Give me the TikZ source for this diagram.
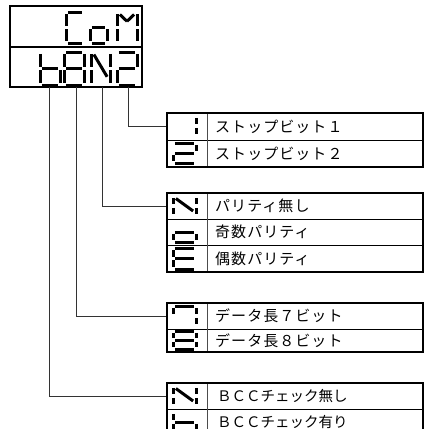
\documentclass[tikz,border=0pt]{standalone}
\usepackage{fontspec}
\newfontfamily\jp{Noto Sans CJK JP}

% seven-segment digit: x, y (top left), width, height, segments
\newcommand{\segdigit}[5]{%
  \begin{scope}[shift={(#1,#2)}]
    \def\sw{#3}\def\sh{#4}
    \foreach \s in {#5} {\draw[segline, seg/.expanded=\s];}
  \end{scope}}

\tikzset{
  segline/.style={line width=3pt, line cap=butt},
  seg/.style={seg #1},
  seg a/.style={insert path={(\sgap,0) -- (\sw-\sgap,0)}},
  seg b/.style={insert path={(\sw,\sgap) -- (\sw,\sh/2-\sgap)}},
  seg c/.style={insert path={(\sw,\sh/2+\sgap) -- (\sw,\sh-\sgap)}},
  seg d/.style={insert path={(\sgap,\sh) -- (\sw-\sgap,\sh)}},
  seg e/.style={insert path={(0,\sh/2+\sgap) -- (0,\sh-\sgap)}},
  seg f/.style={insert path={(0,\sgap) -- (0,\sh/2-\sgap)}},
  seg g/.style={insert path={(\sgap,\sh/2) -- (\sw-\sgap,\sh/2)}},
  seg n/.style={insert path={(1.6*\sgap,1.4*\sgap) -- (\sw-1.6*\sgap,0.75*\sh)}},
  seg ml/.style={insert path={(1.6*\sgap,1.4*\sgap) -- (\sw/2,0.3*\sh)}},
  seg mr/.style={insert path={(\sw-1.6*\sgap,1.4*\sgap) -- (\sw/2,0.3*\sh)}},
  disp/.style={line width=1.6pt},
  tab/.style={line width=1.4pt},
  rowline/.style={line width=0.8pt},
  colline/.style={line width=0.6pt, black!70},
  wire/.style={line width=0.8pt, black!80},
  txt/.style={anchor=west, inner sep=0pt,
    font=\jp\fontsize{15}{15}\selectfont\addfontfeature{LetterSpace=7}},
  bcctxt/.style={txt, font=\jp\fontsize{14.5}{15}\selectfont}
}
\def\sgap{1.8}

\begin{document}
\begin{tikzpicture}[x=1pt, y=-1pt]
  \useasboundingbox (0,0) rectangle (424,429);

  % display
  \draw[disp] (10,6) rectangle (142,87);
  \draw[disp] (10,47) -- (142,47);
  \segdigit{66}{12}{18}{31}{a,d,e,f}
  \segdigit{90}{12}{17}{31}{c,d,e,g}
  \segdigit{117}{12}{20}{31}{b,c,e,f,ml,mr}
  \segdigit{40}{52}{20}{33}{c,d,e,f,g}
  \segdigit{64}{52}{20}{33}{a,b,c,d,e,f,g}
  \segdigit{91}{52}{19}{33}{b,c,e,f,n}
  \segdigit{117}{52}{20}{33}{a,b,d,e,g}
  \coordinate (bcc) at (49,87);
  \coordinate (len) at (76,87);
  \coordinate (par) at (102,87);
  \coordinate (stp) at (128,87);

  % stop bit
  \coordinate (stpin) at (167,126.5);
  \draw[wire] (stp) |- (stpin);
  \draw[rowline] (167,140) -- (423,140);
  \draw[colline] (207,113) -- (207,167);
  \draw[tab] (167,113) rectangle (423,167);
  \segdigit{173}{116}{23}{20}{b,c}
  \segdigit{173}{143}{23}{20}{a,b,d,e,g}
  \node[txt] (stop1) at (215,126.5) {ストップビット１};
  \node[txt] (stop2) at (215,153.5) {ストップビット２};

  % parity
  \coordinate (parin) at (167,206);
  \draw[wire] (par) |- (parin);
  \draw[rowline] (167,219) -- (423,219);
  \draw[rowline] (167,245) -- (423,245);
  \draw[colline] (207,193) -- (207,272);
  \draw[tab] (167,193) rectangle (423,272);
  \segdigit{173}{196}{23}{20}{b,c,e,f,n}
  \segdigit{173}{222}{23}{20}{c,d,e,g}
  \segdigit{173}{248}{23}{21}{a,d,e,f,g}
  \node[txt] (par1) at (215,206) {パリティ無し};
  \node[txt] (par2) at (215,232) {奇数パリティ};
  \node[txt] (par3) at (215,258.5) {偶数パリティ};

  % data length
  \coordinate (lenin) at (167,316);
  \draw[wire] (len) |- (lenin);
  \draw[rowline] (167,329) -- (423,329);
  \draw[colline] (207,303) -- (207,352);
  \draw[tab] (167,303) rectangle (423,352);
  \segdigit{173}{306}{23}{20}{a,b,c,f}
  \segdigit{173}{331}{23}{18}{a,b,c,d,e,f,g}
  \node[txt] (len1) at (215,316) {データ長７ビット};
  \node[txt] (len2) at (215,340.5) {データ長８ビット};

  % bcc
  \coordinate (bccin) at (167,396);
  \draw[wire] (bcc) |- (bccin);
  \draw[rowline] (167,409) -- (423,409);
  \draw[colline] (207,383) -- (207,436);
  \draw[tab] (167,383) rectangle (423,436);
  \segdigit{173}{386}{23}{20}{b,c,e,f,n}
  \segdigit{173}{412}{23}{20}{c,d,e,f,g}
  \node[bcctxt] (bcc1) at (217,396) {ＢＣＣチェック無し};
  \node[bcctxt] (bcc2) at (217,422) {ＢＣＣチェック有り};
\end{tikzpicture}
\end{document}
